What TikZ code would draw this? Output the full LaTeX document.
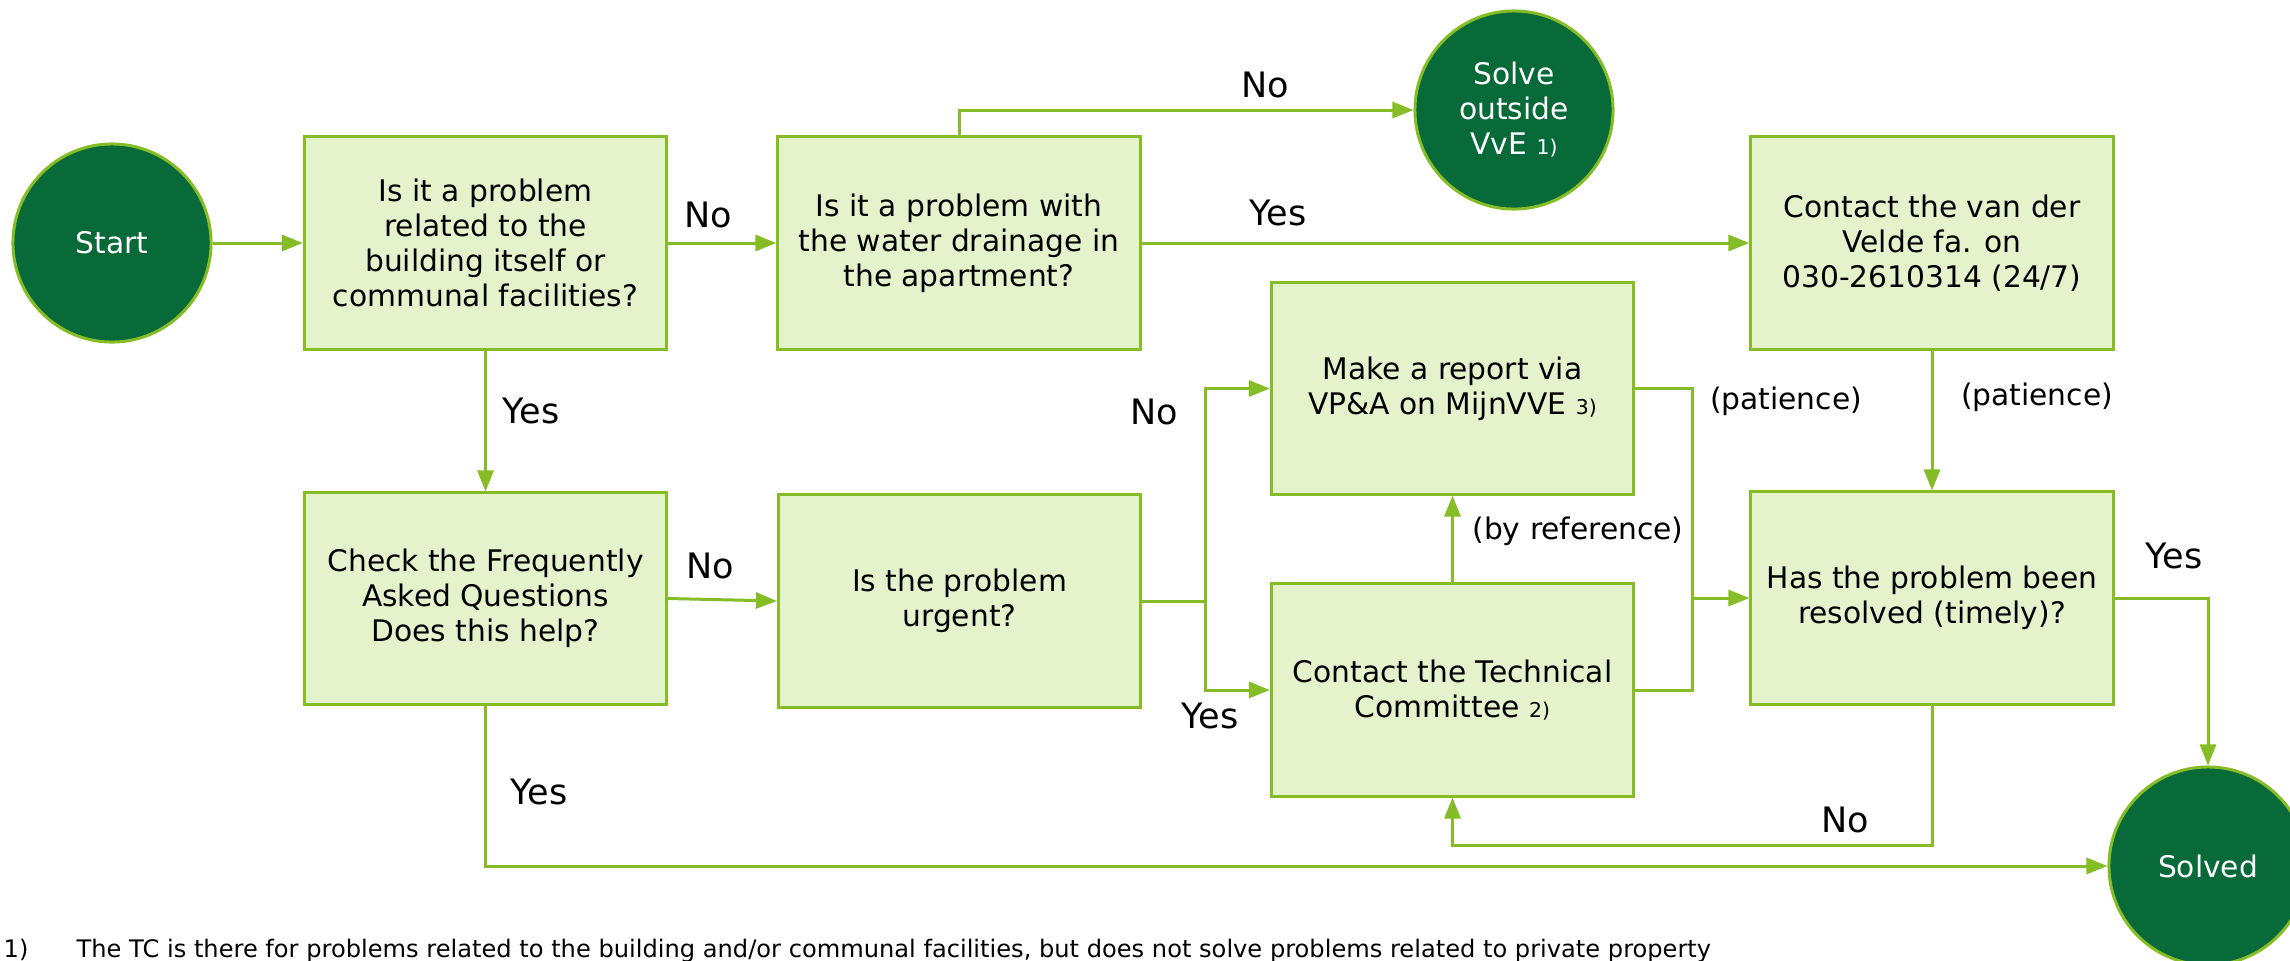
\documentclass[tikz,border=0pt]{standalone}
\usepackage{fontspec}
\setmainfont{DejaVu Sans}
\usepackage{tikz}
\usetikzlibrary{arrows.meta, positioning, calc}
\definecolor{lgreen}{RGB}{134,188,37}
\definecolor{pale}{RGB}{229,243,205}
\definecolor{dgreen}{RGB}{7,106,56}
\newcommand{\boxfont}{\fontsize{8.45}{9.96}\selectfont}
\newcommand{\ansfont}{\fontsize{9.96}{12}\selectfont}
\newcommand{\smallref}[1]{{\fontsize{5.8}{6}\selectfont #1}}
\tikzset{
    qbox/.style={rectangle, draw=lgreen, fill=pale, line width=0.85pt, minimum width=3.62cm, minimum height=2.12cm, inner sep=0pt, align=center, font=\boxfont},
    endpoint/.style={circle, draw=lgreen, fill=dgreen, line width=0.85pt, minimum size=1.98cm, inner sep=0pt, align=center, text=white, font=\boxfont},
    flow/.style={-{Triangle[length=0.21cm, width=0.16cm]}, draw=lgreen, line width=0.85pt},
    link/.style={draw=lgreen, line width=0.85pt},
}

\begin{document}
\begin{tikzpicture}[
    x=0.01cm, y=-0.01cm,
    ans/.style={font=\ansfont, anchor=base},
    remark/.style={font=\boxfont, anchor=base},
    fn/.style={font=\fontsize{6.86}{8}\selectfont, anchor=base west, inner sep=0pt}
]
\useasboundingbox (0,0) rectangle (2290,960);

% Top row
\node[endpoint] (start) at (112,243) {Start};
\node[qbox] (building) at (485.5,243) {Is it a problem\\related to the\\building itself or\\communal facilities?};
\node[qbox] (drainage) at (959,243) {Is it a problem with\\the water drainage in\\the apartment?};
\node[endpoint] (outside) at (1514,110) {Solve\\outside\\VvE \smallref{1)}};
\node[qbox] (velde) at (1932,243) {Contact the van der\\Velde fa. on\\030-2610314 (24/7)};

% Middle: the two ways to report
\node[qbox, minimum height=2.11cm] (report) at (1452.5,388.5) {Make a report via\\VP\&A on MijnVVE \smallref{3)}};
\node[qbox] (tc) at (1452.5,690) {Contact the Technical\\Committee \smallref{2)}};

% Bottom row
\node[qbox, minimum height=2.11cm] (faq) at (485.5,598.5) {Check the Frequently\\Asked Questions\\Does this help?};
\node[qbox] (urgent) at (959.5,601) {Is the problem\\urgent?};
\node[qbox] (resolved) at (1932,598) {Has the problem been\\resolved (timely)?};
\node[endpoint] (solved) at (2208,866) {Solved};

% Arrows
\draw[flow] (start.east) -- (building.west);
\draw[flow] (building.east) -- (drainage.west);
\draw[flow] (drainage.north) |- (outside.west);
\draw[flow] (drainage.east) -- (velde.west);
\draw[flow] (building.south) -- (faq.north);
\draw[flow] (faq.east) -- (urgent.west);
\coordinate (usplit) at (1205,601);
\draw[link] (urgent.east) -- (usplit);
\draw[flow] (usplit) |- (report.west);
\draw[flow] (usplit) |- (tc.west);
\draw[flow] (tc.north) -- (report.south);
\coordinate (rjoin) at (1692,598);
\draw[link] (report.east) -| (rjoin);
\draw[link] (tc.east) -| (rjoin);
\draw[flow] (rjoin) -- (resolved.west);
\draw[flow] (velde.south) -- (resolved.north);
\draw[flow] (resolved.east) -| (solved.north);
\draw[flow] (resolved.south) -- ++(0,140) -| (tc.south);
\draw[flow] (faq.south) |- (solved.west);

% Labels
\node[ans] (no1) at (708,227) {No};
\node[ans] (no2) at (1265,97) {No};
\node[ans] (yes1) at (1278,225) {Yes};
\node[ans] (yes2) at (531,423) {Yes};
\node[ans] (no3) at (710,578) {No};
\node[ans] (no4) at (1154,424) {No};
\node[ans] (yes3) at (1210,728) {Yes};
\node[ans] (yes4) at (2174,568) {Yes};
\node[ans] (no5) at (1845,832) {No};
\node[ans] (yes5) at (539,804) {Yes};
\node[remark] (byref) at (1578,539) {(by reference)};
\node[remark] (wait1) at (1786,409) {(patience)};
\node[remark] (wait2) at (2037,405) {(patience)};

% Footnote
\node[fn] (fnnum) at (3,957) {1)};
\node[fn] (fntext) at (76,957) {The TC is there for problems related to the building and/or communal facilities, but does not solve problems related to private property};

\end{tikzpicture}
\end{document}
